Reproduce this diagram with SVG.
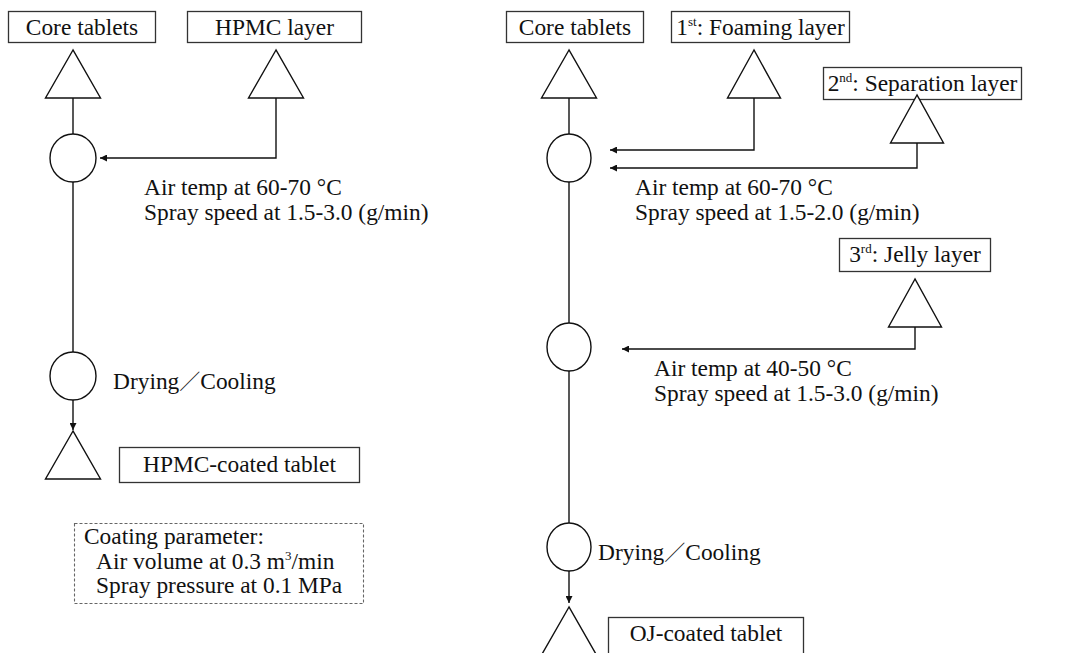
<svg xmlns="http://www.w3.org/2000/svg" width="1067" height="653" viewBox="0 0 1067 653">
  <style>
    .t { font-family: "Liberation Serif", "Times New Roman", Tinos, "DejaVu Serif", serif; font-size: 23.4px; fill: #111; }
    .cjk { font-family: "Noto Sans CJK JP", "Noto Sans CJK SC", sans-serif; font-size: 21px; }
    .c { text-anchor: middle; }
    .sup { font-size: 13px; }
    .box { fill: #fff; stroke: #333; stroke-width: 1.3; }
    .dash { fill: none; stroke: #666; stroke-width: 1.1; stroke-dasharray: 3 2; }
    .shape { fill: #fff; stroke: #111; stroke-width: 1.4; }
    .ln { fill: none; stroke: #111; stroke-width: 1.4; }
    .arr { fill: none; stroke: #111; stroke-width: 1.4; marker-end: url(#ah); }
  </style>
  <defs>
    <marker id="ah" viewBox="0 0 10 10" refX="10" refY="5" markerWidth="7" markerHeight="7" markerUnits="userSpaceOnUse" orient="auto">
      <path d="M0,0 L10,5 L0,10 z" fill="#111"/>
    </marker>
  </defs>
  <rect width="1067" height="653" fill="#fff"/>

  <!-- connectors -->
  <g id="connectors">
    <!-- HPMC process -->
    <path class="ln" d="M73,98 V134"/>
    <path class="ln" d="M73,182 V352"/>
    <path class="arr" d="M73,400 V430"/>
    <path class="arr" d="M276,98 V158 H100"/>
    <!-- OJ process -->
    <path class="ln" d="M569,98 V134"/>
    <path class="ln" d="M569,182 V323"/>
    <path class="ln" d="M569,371 V523"/>
    <path class="arr" d="M569,571 V603"/>
    <path class="arr" d="M754,98 V150 H610"/>
    <path class="arr" d="M917,143 V168 H610"/>
    <path class="arr" d="M915,327 V349 H622"/>
  </g>

  <!-- HPMC process -->
  <g id="core-left">
    <rect class="box" x="8.5" y="11.5" width="147" height="31"/>
    <text class="t c" x="82" y="35">Core tablets</text>
  </g>
  <g id="hpmc-layer">
    <rect class="box" x="187.5" y="11.5" width="174" height="31"/>
    <text class="t c" x="274.5" y="35">HPMC layer</text>
  </g>
  <g id="tri-core-left"><polygon class="shape" points="73,50 45.5,98 100.5,98"/></g>
  <g id="tri-hpmc"><polygon class="shape" points="276,50 248.5,98 303.5,98"/></g>
  <g id="coat-left"><ellipse class="shape" cx="73" cy="158" rx="23" ry="24"/></g>
  <g id="coat-left-params">
    <text class="t" x="144" y="195">Air temp at 60-70 °C</text>
    <text class="t" x="144" y="220">Spray speed at 1.5-3.0 (g/min)</text>
  </g>
  <g id="dry-left">
    <ellipse class="shape" cx="73" cy="376" rx="23" ry="24"/>
    <text class="t" x="113" y="389">Drying<tspan class="cjk">／</tspan>Cooling</text>
  </g>
  <g id="tri-product-left"><polygon class="shape" points="73,431 45.5,479 100.5,479"/></g>
  <g id="hpmc-coated">
    <rect class="box" x="119.5" y="447.5" width="240" height="35"/>
    <text class="t c" x="239.5" y="472">HPMC-coated tablet</text>
  </g>
  <g id="coating-parameter">
    <rect class="dash" x="74.5" y="523.5" width="289" height="80"/>
    <text class="t" x="84" y="544">Coating parameter:</text>
    <text class="t" x="96" y="569">Air volume at 0.3 m<tspan class="sup" dy="-9">3</tspan><tspan dy="9">/min</tspan></text>
    <text class="t" x="96" y="593">Spray pressure at 0.1 MPa</text>
  </g>

  <!-- OJ process -->
  <g id="core-right">
    <rect class="box" x="506.5" y="11.5" width="137" height="31"/>
    <text class="t c" x="575" y="35">Core tablets</text>
  </g>
  <g id="foaming-layer">
    <rect class="box" x="671.5" y="11.5" width="178" height="31"/>
    <text class="t c" x="760.5" y="35">1<tspan class="sup" dy="-9">st</tspan><tspan dy="9">: Foaming layer</tspan></text>
  </g>
  <g id="separation-layer">
    <rect class="box" x="823.5" y="67.5" width="198" height="32"/>
    <text class="t c" x="922.5" y="91">2<tspan class="sup" dy="-9">nd</tspan><tspan dy="9">: Separation layer</tspan></text>
  </g>
  <g id="tri-core-right"><polygon class="shape" points="569,50 541.5,98 596.5,98"/></g>
  <g id="tri-foaming"><polygon class="shape" points="754,50 727.5,98 780.5,98"/></g>
  <g id="tri-separation"><polygon class="shape" points="917,95 890.5,143 943.5,143"/></g>
  <g id="coat-right-1"><ellipse class="shape" cx="569" cy="158" rx="22" ry="24"/></g>
  <g id="coat-right-1-params">
    <text class="t" x="635" y="195">Air temp at 60-70 °C</text>
    <text class="t" x="635" y="220">Spray speed at 1.5-2.0 (g/min)</text>
  </g>
  <g id="jelly-layer">
    <rect class="box" x="839.5" y="238.5" width="151" height="33"/>
    <text class="t c" x="915" y="262">3<tspan class="sup" dy="-9">rd</tspan><tspan dy="9">: Jelly layer</tspan></text>
  </g>
  <g id="tri-jelly"><polygon class="shape" points="915,279 888.5,327 941.5,327"/></g>
  <g id="coat-right-2"><ellipse class="shape" cx="569" cy="347" rx="22" ry="24"/></g>
  <g id="coat-right-2-params">
    <text class="t" x="654" y="376">Air temp at 40-50 °C</text>
    <text class="t" x="654" y="401">Spray speed at 1.5-3.0 (g/min)</text>
  </g>
  <g id="dry-right">
    <ellipse class="shape" cx="569" cy="547" rx="22" ry="24"/>
    <text class="t" x="598" y="560">Drying<tspan class="cjk">／</tspan>Cooling</text>
  </g>
  <g id="tri-product-right"><polygon class="shape" points="569,607 541.5,655 596.5,655"/></g>
  <g id="oj-coated">
    <rect class="box" x="608.5" y="617.5" width="195" height="45"/>
    <text class="t c" x="706" y="641">OJ-coated tablet</text>
  </g>
</svg>
